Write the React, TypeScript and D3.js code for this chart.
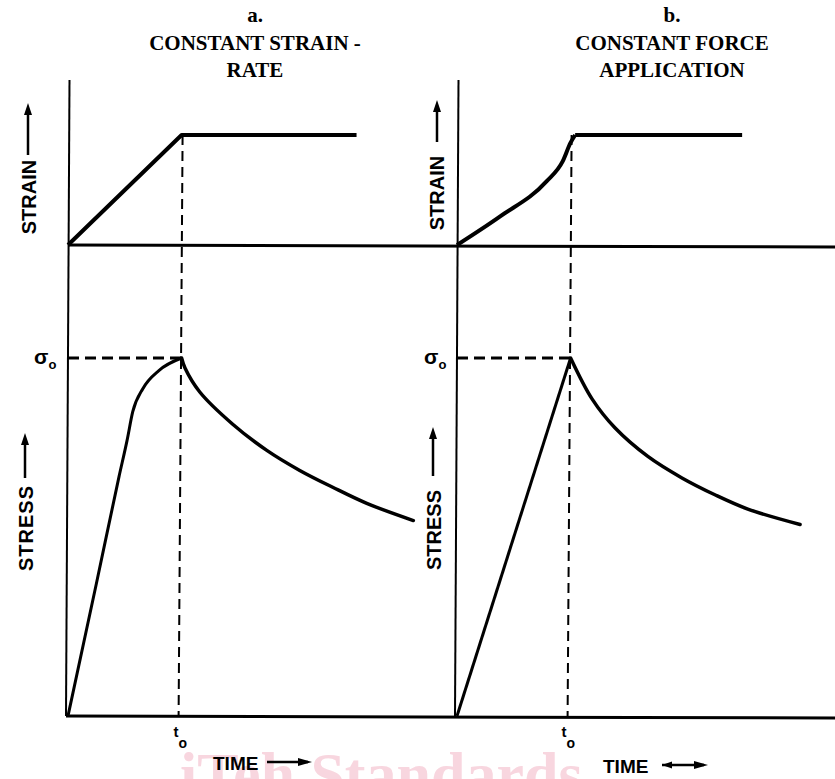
import React from 'react';
import * as d3 from 'd3';

type Pt = [number, number];

// time in units of t0, strain in units of its final value, stress in units of sigma0
const strainA: Pt[] = [[0, 0], [1, 1], [2.54, 1]];
const stressRiseA: Pt[] = [[0, 0], [0.25, 0.37], [0.45, 0.67], [0.52, 0.77], [0.57, 0.85], [0.66, 0.915], [0.8, 0.965], [1, 1]];
const stressDecayA: Pt[] = [[1, 1], [1.03, 0.972], [1.16, 0.905], [1.45, 0.815], [1.75, 0.742], [2.04, 0.686], [2.33, 0.639], [2.63, 0.594], [3.04, 0.546]];

const strainRiseB: Pt[] = [[0, 0], [0.38, 0.26], [0.79, 0.58], [0.93, 0.76], [1.0, 0.93], [1.04, 1]];
const strainHoldB: Pt[] = [[1.04, 1], [2.51, 1]];
const stressRiseB: Pt[] = [[0, 0], [1, 1]];
const stressDecayB: Pt[] = [[1, 1], [1.19, 0.885], [1.39, 0.805], [1.68, 0.725], [1.98, 0.665], [2.27, 0.618], [2.56, 0.578], [3.02, 0.535]];

const titleA = ['a.', 'CONSTANT STRAIN -', 'RATE'];
const titleB = ['b.', 'CONSTANT FORCE', 'APPLICATION'];

const W = 835;
const H = 779;

const x = d3.scaleLinear().domain([0, 1]).range([0, 113.6]);
const strainY = d3.scaleLinear().domain([0, 1]).range([245, 135]);
const stressY = d3.scaleLinear().domain([0, 1]).range([716, 358]);

const strainLine = d3.line<Pt>().x(d => x(d[0])).y(d => strainY(d[1]));
const strainCurve = d3.line<Pt>().x(d => x(d[0])).y(d => strainY(d[1])).curve(d3.curveMonotoneX);
const riseLine = d3.line<Pt>().x(d => x(d[0])).y(d => stressY(d[1])).curve(d3.curveMonotoneX);
const decayLine = d3.line<Pt>().x(d => x(d[0])).y(d => stressY(d[1])).curve(d3.curveCatmullRom.alpha(0.5));

const sans = '"Liberation Sans", Arial, sans-serif';
const serif = '"Liberation Serif", "Times New Roman", serif';

function UpArrow({ cx, y1, y2 }: { cx: number; y1: number; y2: number }) {
  return (
    <g>
      <line x1={cx} x2={cx} y1={y1} y2={y2 + 6} stroke="#000" strokeWidth={2.5} />
      <path d={`M${cx},${y2} L${cx - 4},${y2 + 12} L${cx + 4},${y2 + 12} Z`} fill="#000" />
    </g>
  );
}

function RightArrow({ x1, x2, cy, both }: { x1: number; x2: number; cy: number; both?: boolean }) {
  return (
    <g>
      <line x1={x1} x2={x2 - 4} y1={cy} y2={cy} stroke="#000" strokeWidth={2.5} />
      <path d={`M${x2},${cy} L${x2 - 14},${cy - 4} L${x2 - 14},${cy + 4} Z`} fill="#000" />
      {both && <path d={`M${x1},${cy} L${x1 + 10},${cy - 3.5} L${x1 + 10},${cy + 3.5} Z`} fill="#000" />}
    </g>
  );
}

function Panel({ ox, strainPath, rise, decay }: { ox: number; strainPath: string; rise: Pt[]; decay: Pt[] }) {
  return (
    <g transform={`translate(${ox},0)`}>
      {/* vertical axis */}
      <line x1={x(0) + 1.5} x2={x(0) - 2} y1={strainY(1.5)} y2={stressY(0)} stroke="#000" strokeWidth={2} />
      {/* t0 marker */}
      <line x1={x(1) + 1} x2={x(1) - 3} y1={strainY(1)} y2={stressY(0)} stroke="#000" strokeWidth={2} strokeDasharray="10,6" />
      {/* sigma0 marker */}
      <line x1={x(0)} x2={x(1)} y1={stressY(1)} y2={stressY(1)} stroke="#000" strokeWidth={3} strokeDasharray="11,6" />
      <path d={strainPath} fill="none" stroke="#000" strokeWidth={4} strokeLinejoin="round" />
      <path d={riseLine(rise) || ''} fill="none" stroke="#000" strokeWidth={3} />
      <path d={decayLine(decay) || ''} fill="none" stroke="#000" strokeWidth={3.5} strokeLinecap="round" />
    </g>
  );
}

export default function App() {
  const oa = 68;
  const ob = 457;
  const pathA = strainLine(strainA) || '';
  const pathB = (strainCurve(strainRiseB) || '') + (strainLine(strainHoldB) || '');
  return (
    <svg width={W} height={H} style={{ position: 'absolute', left: 0, top: 0, background: '#fff' }}>
      <rect width={W} height={H} fill="#fff" />
      {/* watermark */}
      <text x={180} y={795} fontFamily={serif} fontWeight="bold" fontSize={62} fill="#f8d6df">iTeh Standards</text>

      {/* titles */}
      {[titleA, titleB].map((t, i) => (
        <g key={i} fontFamily={serif} fontWeight="bold" fontSize={21} textAnchor="middle">
          {t.map((s, j) => (
            <text key={j} x={i === 0 ? 255 : 672} y={22 + j * 27.5}>{s}</text>
          ))}
        </g>
      ))}

      {/* baselines */}
      <line x1={oa} x2={W} y1={strainY(0)} y2={strainY(0) + 2} stroke="#000" strokeWidth={3} />
      <line x1={oa - 2} x2={W} y1={stressY(0)} y2={stressY(0) + 2} stroke="#000" strokeWidth={3} />

      <Panel ox={oa} strainPath={pathA} rise={stressRiseA} decay={stressDecayA} />
      <Panel ox={ob} strainPath={pathB} rise={stressRiseB} decay={stressDecayB} />

      {/* axis labels */}
      <g fontFamily={sans} fontWeight="bold" fontSize={20} textAnchor="middle">
        <text transform="translate(36,197) rotate(-90)">STRAIN</text>
        <text transform="translate(444,193) rotate(-90)">STRAIN</text>
        <text transform="translate(33,528) rotate(-90)" letterSpacing={1}>STRESS</text>
        <text transform="translate(441,530) rotate(-90)">STRESS</text>
      </g>
      <UpArrow cx={28} y1={155} y2={103} />
      <UpArrow cx={437} y1={142} y2={100} />
      <UpArrow cx={25} y1={478} y2={433} />
      <UpArrow cx={433} y1={476} y2={427} />

      {/* sigma0 */}
      {[oa - 34, ob - 33].map((px, i) => (
        <text key={i} x={px} y={364} fontFamily={sans} fontWeight="bold" fontSize={21}>
          σ<tspan fontSize={13} dy={5}>o</tspan>
        </text>
      ))}

      {/* t0 */}
      {[oa + x(1) - 8, ob + x(1) - 9].map((px, i) => (
        <text key={i} x={px} y={737} fontFamily={sans} fontWeight="bold" fontSize={15}>
          t<tspan fontSize={14} dy={11}>o</tspan>
        </text>
      ))}

      {/* time labels */}
      <text x={213} y={770} fontFamily={sans} fontWeight="bold" fontSize={19}>TIME</text>
      <RightArrow x1={267} x2={312} cy={762} />
      <text x={603} y={773} fontFamily={sans} fontWeight="bold" fontSize={19}>TIME</text>
      <RightArrow x1={662} x2={708} cy={765} both />
    </svg>
  );
}
